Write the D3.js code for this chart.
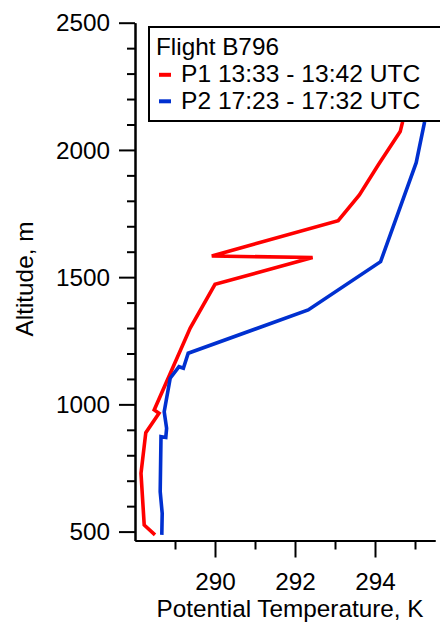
<!DOCTYPE html>
<html>
<head>
<meta charset="utf-8">
<script src="https://cdn.jsdelivr.net/npm/d3@7"></script>
<style>
  html, body { margin: 0; padding: 0; background: #fff; }
  svg { display: block; }
  text { font-family: Arial, "Liberation Sans", sans-serif; fill: #000; }
</style>
</head>
<body>
<svg id="chart" width="440" height="622"></svg>
<script>
// Vertical profiles of potential temperature, flight B796
const p1Theta = [288.50, 288.23, 288.15, 288.27, 288.60, 288.48, 289.38, 290.00, 292.44, 289.92, 293.08, 293.61, 294.08, 294.63, 294.69];
const p1Alt   = [487, 526, 729, 889, 965, 978, 1300, 1472, 1577, 1583, 1722, 1823, 1941, 2072, 2110];

const p2Theta = [288.67, 288.68, 288.63, 288.65, 288.77, 288.79, 288.73, 288.88, 289.10, 289.21, 289.33, 292.33, 294.14, 295.03, 295.24];
const p2Alt   = [487, 572, 657, 873, 870, 906, 971, 1103, 1148, 1142, 1201, 1371, 1561, 1950, 2110];

const seriesNames  = ["P1 13:33 - 13:42 UTC", "P2 17:23 - 17:32 UTC"];
const seriesColors = ["#ff0000", "#0030d0"];
const legendTitle  = "Flight B796";

const xMajorTicks = [290, 292, 294];
const xMinorTicks = [289, 291, 293, 295];
const yMajorTicks = [500, 1000, 1500, 2000, 2500];
const yMinorTicks = [600, 700, 800, 900, 1100, 1200, 1300, 1400, 1600, 1700, 1800, 1900, 2100, 2200, 2300, 2400];

const xLabel = "Potential Temperature, K";
const yLabel = "Altitude, m";

const svg = d3.select("#chart");

const x = d3.scaleLinear().domain([288, 295.5]).range([135, 435]);
const y = d3.scaleLinear().domain([465, 2500]).range([540.5, 22.7]);

const FS = 24.3;

// profiles
const line = d3.line().x(d => x(d[0])).y(d => y(d[1]));
const profiles = [
  d3.zip(p1Theta, p1Alt),
  d3.zip(p2Theta, p2Alt)
];
svg.append("g").selectAll("path")
  .data(profiles)
  .join("path")
  .attr("d", line)
  .attr("fill", "none")
  .attr("stroke", (d, i) => seriesColors[i])
  .attr("stroke-width", 3.6)
  .attr("stroke-linejoin", "miter")
  .attr("stroke-miterlimit", 3);

// x axis
const xAxisY = y.range()[0];
const gx = svg.append("g").attr("transform", `translate(0,${xAxisY})`);
gx.call(d3.axisBottom(x).tickValues(xMinorTicks).tickSize(9).tickSizeOuter(0).tickFormat(""));
gx.call(g => g.append("g").call(d3.axisBottom(x).tickValues(xMajorTicks).tickSize(17).tickSizeOuter(0).tickFormat(d3.format("d"))));
gx.selectAll("path.domain").attr("stroke", "#000").attr("stroke-width", 2);
gx.selectAll("line").attr("stroke", "#000").attr("stroke-width", 2);
gx.selectAll("text").attr("font-size", FS).attr("font-family", 'Arial, "Liberation Sans", sans-serif')
  .attr("fill", "#000").attr("y", 0).attr("dy", null).attr("transform", "translate(0,49.5)");

// y axis
const yAxisX = x.range()[0];
const gy = svg.append("g").attr("transform", `translate(${yAxisX},0)`);
gy.call(d3.axisLeft(y).tickValues(yMinorTicks).tickSize(8).tickSizeOuter(0).tickFormat(""));
gy.call(g => g.append("g").call(d3.axisLeft(y).tickValues(yMajorTicks).tickSize(16).tickSizeOuter(0).tickFormat(d3.format("d"))));
gy.selectAll("path.domain").attr("stroke", "#000").attr("stroke-width", 2);
gy.selectAll("line").attr("stroke", "#000").attr("stroke-width", 2);
gy.selectAll("text").attr("font-size", FS).attr("font-family", 'Arial, "Liberation Sans", sans-serif')
  .attr("fill", "#000").attr("x", -25).attr("dy", "0.34em");

// axis titles
svg.append("text")
  .attr("x", 290).attr("y", 617)
  .attr("text-anchor", "middle")
  .attr("font-size", FS)
  .text(xLabel);

svg.append("text")
  .attr("transform", "translate(33,279) rotate(-90)")
  .attr("text-anchor", "middle")
  .attr("font-size", FS)
  .text(yLabel);

// legend
const lg = svg.append("g");
lg.append("rect")
  .attr("x", 149).attr("y", 27)
  .attr("width", 300).attr("height", 94)
  .attr("fill", "#fff").attr("stroke", "#000").attr("stroke-width", 2);
lg.append("text").attr("x", 156).attr("y", 55).attr("font-size", FS).text(legendTitle);
seriesNames.forEach((name, i) => {
  const cy = 74.8 + i * 26.5;
  lg.append("line")
    .attr("x1", 159).attr("x2", 171)
    .attr("y1", cy).attr("y2", cy)
    .attr("stroke", seriesColors[i]).attr("stroke-width", 4);
  lg.append("text").attr("x", 181).attr("y", 82 + i * 26.5).attr("font-size", 24.6).text(name);
});
</script>
</body>
</html>
